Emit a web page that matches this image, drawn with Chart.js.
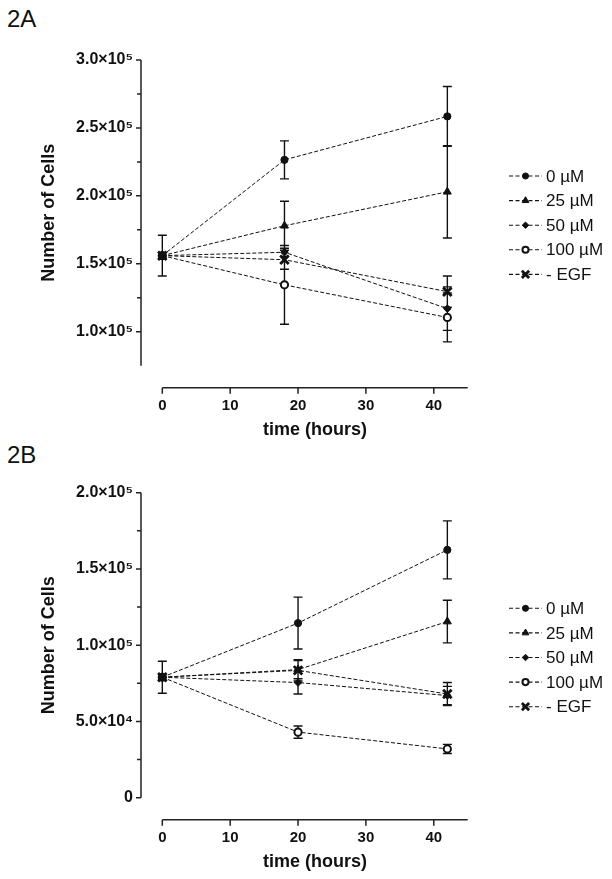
<!DOCTYPE html>
<html>
<head>
<meta charset="utf-8">
<script src="https://cdn.jsdelivr.net/npm/chart.js@4.4.1/dist/chart.umd.min.js"></script>
<style>
  body { margin: 0; background: #fff; width: 612px; height: 879px; position: relative; overflow: hidden; font-family: "Liberation Sans", Arial, sans-serif; }
  .panel { position: absolute; left: 0; width: 612px; }
  .tag { position: absolute; left: 7px; font-size: 24px; line-height: 24px; color: #111; }
</style>
</head>
<body>
<div class="tag" style="top:7px">2A</div>
<div class="tag" style="top:443px">2B</div>
<div class="panel" style="top:0;height:440px"><canvas id="panelA" width="612" height="440"></canvas></div>
<div class="panel" style="top:440px;height:439px"><canvas id="panelB" width="612" height="439"></canvas></div>
<script>
const seriesNames = ['0 \u00b5M', '25 \u00b5M', '50 \u00b5M', '100 \u00b5M', '- EGF'];

// panel 2A
const timesA = [0, 18, 42];
const meansA = [
  [156000, 226500, 258500],
  [156000, 178000, 203000],
  [156000, 158500, 117000],
  [156000, 134500, 110500],
  [156000, 153000, 129500]
];
const errsA = [
  [15000, 14000, 22000],
  [15000, 18000, 34000],
  [15000, 3000, 16000],
  [15000, 29000, 18000],
  [15000, 7000, 11500]
];
const yTicksA = [100000, 150000, 200000, 250000, 300000];
const yLabelsA = ['1.0\u00d710\u2075', '1.5\u00d710\u2075', '2.0\u00d710\u2075', '2.5\u00d710\u2075', '3.0\u00d710\u2075'];
const yMinorA = [125000, 175000, 225000, 275000];

// panel 2B
const timesB = [0, 20, 42];
const meansB = [
  [79000, 114500, 162500],
  [79000, 84000, 115500],
  [79000, 75500, 67000],
  [79000, 43000, 32000],
  [79000, 83500, 68000]
];
const errsB = [
  [10500, 17000, 19000],
  [10500, 6000, 14000],
  [10500, 7500, 6000],
  [10500, 4000, 3000],
  [10500, 7000, 7500]
];
const yTicksB = [0, 50000, 100000, 150000, 200000];
const yLabelsB = ['0', '5.0\u00d710\u2074', '1.0\u00d710\u2075', '1.5\u00d710\u2075', '2.0\u00d710\u2075'];
const yMinorB = [25000, 75000, 125000, 175000];

const xTicks = [0, 10, 20, 30, 40];
const xTitle = 'time (hours)';
const yTitle = 'Number of Cells';

const markerStyles = ['circle', 'triangle', 'rectRot', 'circle', 'crossRot'];
const markerRadius = [3.6, 4.6, 3.8, 3.6, 6];
const markerFill = ['#111', '#111', '#111', '#fff', '#111'];
const markerBorder = [1, 1, 1, 2, 2.8];

const ink = '#111';
const fontFamily = '"Liberation Sans", Arial, sans-serif';

function axesPlugin(p) {
  return {
    id: 'axesBars',
    beforeDatasetsDraw(chart) {
      const ctx = chart.ctx;
      const xs = chart.scales.x, ys = chart.scales.y;
      const area = chart.chartArea;
      ctx.save();
      ctx.strokeStyle = '#222';
      ctx.lineWidth = 1.5;
      ctx.setLineDash([]);
      // y axis
      ctx.beginPath();
      ctx.moveTo(area.left, ys.getPixelForValue(p.yMax));
      ctx.lineTo(area.left, ys.getPixelForValue(p.yMin));
      p.yTicks.forEach(v => {
        const y = ys.getPixelForValue(v);
        ctx.moveTo(area.left - 5, y); ctx.lineTo(area.left, y);
      });
      p.yMinor.forEach(v => {
        const y = ys.getPixelForValue(v);
        ctx.moveTo(area.left - 4, y); ctx.lineTo(area.left, y);
      });
      // x axis, set off below the plot
      const xy = area.bottom + 22;
      ctx.moveTo(xs.getPixelForValue(0), xy);
      ctx.lineTo(xs.getPixelForValue(45), xy);
      xTicks.forEach(v => {
        const x = xs.getPixelForValue(v);
        ctx.moveTo(x, xy); ctx.lineTo(x, xy + 6);
      });
      ctx.stroke();

      // error bars
      ctx.strokeStyle = ink;
      ctx.lineWidth = 1.4;
      ctx.beginPath();
      p.means.forEach((row, i) => {
        row.forEach((m, j) => {
          const x = xs.getPixelForValue(p.times[j]);
          const hi = ys.getPixelForValue(m + p.errs[i][j]);
          const lo = ys.getPixelForValue(m - p.errs[i][j]);
          ctx.moveTo(x, hi); ctx.lineTo(x, lo);
          ctx.moveTo(x - 4.5, hi); ctx.lineTo(x + 4.5, hi);
          ctx.moveTo(x - 4.5, lo); ctx.lineTo(x + 4.5, lo);
        });
      });
      ctx.stroke();
      ctx.restore();
    },
    afterDraw(chart) {
      const ctx = chart.ctx;
      const area = chart.chartArea;
      ctx.save();
      // axis titles
      ctx.fillStyle = ink;
      ctx.font = 'bold 18px ' + fontFamily;
      ctx.textAlign = 'center';
      ctx.textBaseline = 'middle';
      ctx.fillText(xTitle, 315, area.bottom + 64);
      ctx.translate(49, (area.top + area.bottom) / 2);
      ctx.rotate(-Math.PI / 2);
      ctx.fillText(yTitle, 0, 0);
      ctx.restore();

      // legend
      ctx.save();
      ctx.font = '17px ' + fontFamily;
      ctx.textAlign = 'left';
      ctx.textBaseline = 'middle';
      seriesNames.forEach((name, i) => {
        const y = p.legendTop + i * 24.6;
        ctx.strokeStyle = ink;
        ctx.lineWidth = 1.1;
        ctx.setLineDash([4, 2.5]);
        ctx.beginPath();
        ctx.moveTo(509, y); ctx.lineTo(542, y);
        ctx.stroke();
        ctx.setLineDash([]);
        ctx.fillStyle = markerFill[i];
        ctx.strokeStyle = ink;
        ctx.lineWidth = markerBorder[i];
        Chart.helpers.drawPoint(ctx, {
          pointStyle: markerStyles[i], radius: markerRadius[i] * 0.85,
          rotation: 0, borderWidth: markerBorder[i]
        }, 525.5, y);
        ctx.fillStyle = ink;
        ctx.fillText(name, 546, y + 1);
      });
      ctx.restore();
    }
  };
}

function buildPanel(id, p) {
  const datasets = seriesNames.map((name, i) => ({
    label: name,
    data: p.times.map((t, j) => ({ x: t, y: p.means[i][j] })),
    borderColor: ink,
    borderWidth: 1,
    borderDash: [4, 2],
    pointStyle: markerStyles[i],
    pointRadius: markerRadius[i],
    pointBackgroundColor: markerFill[i],
    pointBorderColor: ink,
    pointBorderWidth: markerBorder[i],
    fill: false,
    tension: 0
  }));

  new Chart(document.getElementById(id), {
    type: 'line',
    data: { datasets: datasets },
    options: {
      responsive: false,
      animation: false,
      layout: { padding: { left: 0, top: p.top, right: 612 - 467.7, bottom: 0 } },
      plugins: { legend: { display: false }, tooltip: { enabled: false } },
      scales: {
        x: {
          type: 'linear', min: -3.14, max: 45,
          grid: { display: false, drawTicks: false },
          border: { display: false },
          afterBuildTicks: s => { s.ticks = xTicks.map(v => ({ value: v })); },
          afterFit: s => { s.height = p.h - p.bottom; },
          ticks: { padding: 31, color: ink, font: { family: fontFamily, size: 15, weight: 'bold' } }
        },
        y: {
          type: 'linear', min: p.yMin, max: p.yMax,
          grid: { display: false, drawTicks: false },
          border: { display: false },
          afterBuildTicks: s => { s.ticks = p.yTicks.map(v => ({ value: v })); },
          afterFit: s => { s.width = 141; },
          ticks: {
            padding: 8, color: ink, font: { family: fontFamily, size: 16, weight: 'bold' },
            callback: (v) => p.yLabels[p.yTicks.indexOf(v)]
          }
        }
      }
    },
    plugins: [axesPlugin(p)]
  });
}

buildPanel('panelA', {
  times: timesA, means: meansA, errs: errsA,
  yMin: 75000, yMax: 300000, yTicks: yTicksA, yLabels: yLabelsA, yMinor: yMinorA,
  top: 60, bottom: 365.7, h: 440, legendTop: 176
});
buildPanel('panelB', {
  times: timesB, means: meansB, errs: errsB,
  yMin: 0, yMax: 200000, yTicks: yTicksB, yLabels: yLabelsB, yMinor: yMinorB,
  top: 52.7, bottom: 357.7, h: 439, legendTop: 168.3
});
</script>
</body>
</html>
